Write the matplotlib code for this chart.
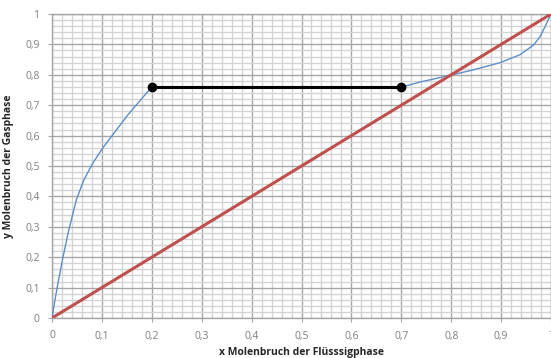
import matplotlib

matplotlib.use("Agg")

import matplotlib.pyplot as plt
from matplotlib.ticker import FuncFormatter, MultipleLocator

# Equilibrium curve, lower branch (x liquid, y vapour)
LEFT_X = [0.0, 0.006, 0.012, 0.022, 0.033, 0.049, 0.064, 0.082, 0.102, 0.126, 0.152, 0.179, 0.2]
LEFT_Y = [0.0, 0.06, 0.115, 0.20, 0.285, 0.39, 0.455, 0.51, 0.56, 0.612, 0.668, 0.72, 0.76]

# Equilibrium curve, upper branch
RIGHT_X = [0.7, 0.737, 0.794, 0.844, 0.898, 0.938, 0.965, 0.978, 0.988, 1.0]
RIGHT_Y = [0.759, 0.776, 0.797, 0.816, 0.840, 0.866, 0.898, 0.925, 0.958, 1.0]

# Miscibility gap tie line
GAP_X = [0.2, 0.7]
GAP_Y = [0.76, 0.76]

DIAGONAL = [0.0, 1.0]


def comma_format(value, _pos):
    if abs(value) < 1e-9:
        return "0"
    if abs(value - 1) < 1e-9:
        return "1"
    return f"{value:.1f}".replace(".", ",")


fig = plt.figure(figsize=(5.51, 3.58), dpi=100)
ax = fig.add_axes([52 / 551, 40 / 358, 499 / 551, 304 / 358])

curve_style = dict(color="#5b8fcc", linewidth=1.0, zorder=3,
                   solid_joinstyle="round", solid_capstyle="round")
ax.plot(LEFT_X, LEFT_Y, **curve_style)
ax.plot(RIGHT_X, RIGHT_Y, **curve_style)
ax.plot(DIAGONAL, DIAGONAL, color="#c0504d", linewidth=2.2, zorder=4)
ax.plot(GAP_X, GAP_Y, color="black", linewidth=2.2, marker="o", markersize=6, zorder=5)

ax.set_xlim(0, 1)
ax.set_ylim(0, 1)
ax.xaxis.set_major_locator(MultipleLocator(0.1))
ax.yaxis.set_major_locator(MultipleLocator(0.1))
ax.xaxis.set_minor_locator(MultipleLocator(0.02))
ax.yaxis.set_minor_locator(MultipleLocator(0.02))
ax.xaxis.set_major_formatter(FuncFormatter(comma_format))
ax.yaxis.set_major_formatter(FuncFormatter(comma_format))

ax.grid(which="major", color="#a6a6a6", linewidth=1.0)
ax.grid(which="minor", color="#d4d4d4", linewidth=1.0)
ax.set_axisbelow(True)

for spine in ax.spines.values():
    spine.set_color("#a6a6a6")
    spine.set_linewidth(1.0)

ax.tick_params(which="major", length=3, color="#a6a6a6", labelsize=7.5,
               labelcolor="#7f7f7f", pad=6)
ax.tick_params(which="minor", length=0)
for label in ax.get_xticklabels() + ax.get_yticklabels():
    label.set_fontfamily("Open Sans")

ax.set_xlabel("x Molenbruch der Flüsssigphase", fontsize=7.5, fontweight="bold",
              family="Open Sans", color="#262626", labelpad=4)
ax.set_ylabel("y Molenbruch der Gasphase", fontsize=7.5, fontweight="bold",
              family="Open Sans", color="#262626", labelpad=8)

fig.savefig("out.png", dpi=100)
